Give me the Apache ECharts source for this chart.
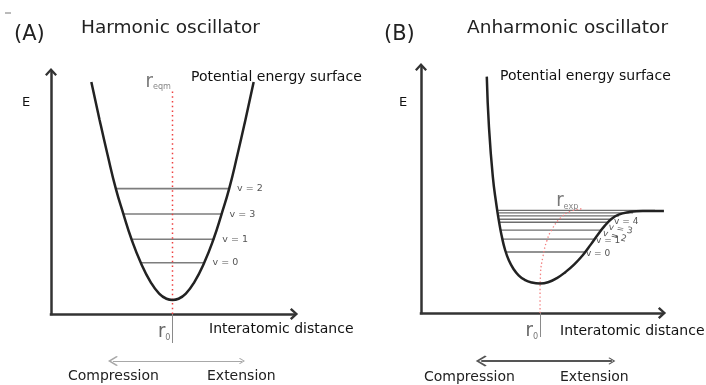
<!DOCTYPE html>
<html>
<head>
<meta charset="utf-8">
<script src="https://cdn.jsdelivr.net/npm/echarts@6/dist/echarts.min.js"></script>
<style>
  html, body { margin: 0; padding: 0; background: #fff; }
  #chart { width: 706px; height: 385px; }
</style>
</head>
<body>
<div id="chart"></div>
<script>
// ---- Panel A: harmonic oscillator (r and E in arbitrary units, 0..10) ----
const harmonicR = [1.66, 2.00, 2.33, 2.67, 2.98, 3.31, 3.70, 4.10, 4.45, 4.75, 5.00, 5.25, 5.55, 5.90, 6.30, 6.69, 7.02, 7.33, 7.67, 8.00, 8.34];
const harmonicE = [9.59, 8.02, 6.57, 5.17, 4.13, 3.10, 2.11, 1.32, 0.84, 0.63, 0.58, 0.63, 0.84, 1.32, 2.11, 3.10, 4.13, 5.17, 6.57, 8.02, 9.59];
const harmonicLevelNames = ['v = 2', 'v = 3', 'v = 1', 'v = 0'];
const harmonicLevelE = [5.18, 4.13, 3.09, 2.12];
const harmonicLevelFrom = [2.67, 2.98, 3.35, 3.70];
const harmonicLevelTo = [7.33, 7.02, 6.72, 6.32];
const eqmR = [5.0, 5.0];
const eqmE = [0, 9.19];
const harmonicR0 = 5.0;
const harmonicSpan = [2.55, 7.86];

// ---- Panel B: anharmonic (Morse-like) oscillator ----
const morseR = [2.73, 2.82, 2.98, 3.13, 3.24, 3.34, 3.49, 3.65, 3.82, 4.05, 4.30, 4.60, 4.94, 5.27, 5.64, 6.00, 6.36, 6.72, 7.05, 7.35, 7.62, 7.90, 8.20, 8.60, 9.20, 10.08];
const morseE = [9.61, 7.57, 5.54, 4.39, 3.70, 3.17, 2.56, 2.13, 1.82, 1.53, 1.35, 1.24, 1.20, 1.25, 1.42, 1.67, 1.98, 2.36, 2.79, 3.20, 3.54, 3.82, 4.00, 4.10, 4.15, 4.15];
const morseLevelNames = ['v = 0', 'v = 1', 'v = 2', 'v = 3', 'v = 4', '', '', ''];
const morseLevelE = [2.48, 3.00, 3.37, 3.69, 3.81, 3.95, 4.07, 4.17];
const morseLevelFrom = [3.51, 3.36, 3.30, 3.28, 3.26, 3.24, 3.22, 3.20];
const morseLevelTo = [6.80, 7.22, 7.50, 7.78, 7.93, 8.22, 8.80, 9.71];
const expR = [4.94, 4.94, 4.96, 5.06, 5.22, 5.44, 5.79, 6.20, 6.73];
const expE = [0, 0.80, 1.61, 2.29, 2.93, 3.41, 3.86, 4.13, 4.24];
const morseR0 = 4.94;
const morseSpan = [2.50, 7.92];

// label placement tweaks for the crowded upper levels of panel B
const morseLabelOffset = [[0, 2], [0, 1], [1, 3], [0, 5], [1, 2], [0, 0], [0, 0], [0, 0]];
const morseLabelRotate = [0, 0, -15, -10, 0, 0, 0, 0];

const FONT = "'DejaVu Sans', Verdana, sans-serif";
const NARROW = "'Liberation Sans Narrow', 'DejaVu Sans Condensed', 'Liberation Sans', sans-serif";
const AXIS_ARROW = 'path://M6,0 L12,6.5 L10.3,8.2 L6,3.4 L1.7,8.2 L0,6.5 Z';
const THIN_ARROW = 'path://M6,0 L12,5 L11,6 L6,1.8 L1,6 L0,5 Z';

const pairs = (xs, ys) => xs.map((x, i) => [x, ys[i]]);

const subRich = (mainColor, subColor) => ({
  r: { fontFamily: NARROW, fontSize: 20, color: mainColor, lineHeight: 20 },
  s: { fontFamily: NARROW, fontSize: 9, color: subColor, lineHeight: 10, padding: [12, 0, 0, 0], verticalAlign: 'bottom' }
});

function mainAxes(gridIndex, r0, tickLen) {
  const line = { color: '#333', width: 2.5, cap: 'square' };
  return {
    x: {
      type: 'value', gridIndex, min: 0, max: 10,
      axisLine: { show: true, onZero: false, symbol: ['none', AXIS_ARROW], symbolSize: [12, 8.2], lineStyle: line },
      axisTick: { show: true, customValues: [r0], length: tickLen, inside: false, lineStyle: { color: '#8a8a8a', width: 1 } },
      axisLabel: {
        show: true, customValues: [r0], align: 'right', margin: 8, padding: [0, 2, 0, 0],
        formatter: () => '{r|r}{s|0}', rich: subRich('#666', '#777')
      },
      splitLine: { show: false }
    },
    y: {
      type: 'value', gridIndex, min: 0, max: 10,
      axisLine: { show: true, onZero: false, symbol: ['none', AXIS_ARROW], symbolSize: [12, 8.2], lineStyle: line },
      axisTick: { show: false }, axisLabel: { show: false }, splitLine: { show: false }
    }
  };
}

function hiddenAxes(gridIndex) {
  return {
    x: { type: 'value', gridIndex, min: 0, max: 10, show: false },
    y: { type: 'value', gridIndex, min: 0, max: 1, show: false }
  };
}

const aAx = mainAxes(0, harmonicR0, 29);
const bAx = mainAxes(1, morseR0, 24);
const aAn = hiddenAxes(2);
const bAn = hiddenAxes(3);

function levelSeries(axisIndex, names, es, from, to, style, offsets, rotates) {
  return es.map((e, i) => ({
    type: 'line', xAxisIndex: axisIndex, yAxisIndex: axisIndex, name: names[i],
    data: [[from[i], e], [to[i], e]],
    symbol: 'none', silent: true, z: 2,
    lineStyle: { color: style.color, width: style.width },
    endLabel: {
      show: names[i] !== '', formatter: names[i], distance: style.distance,
      color: style.labelColor, fontFamily: FONT, fontSize: style.fontSize,
      offset: offsets ? offsets[i] : [0, 0], rotate: rotates ? rotates[i] : 0
    }
  }));
}

function curveSeries(axisIndex, xs, ys) {
  return {
    type: 'line', xAxisIndex: axisIndex, yAxisIndex: axisIndex,
    data: pairs(xs, ys), smooth: 0.5,
    symbol: 'none', silent: true, clip: false, z: 5,
    lineStyle: { color: '#222', width: 2.5 }
  };
}

function spanSeries(axisIndex, span, color, width, size) {
  return {
    type: 'lines', coordinateSystem: 'cartesian2d', xAxisIndex: axisIndex, yAxisIndex: axisIndex,
    silent: true, symbol: [THIN_ARROW, THIN_ARROW], symbolSize: size,
    lineStyle: { color, width, opacity: 1 },
    data: [{ coords: [[span[0], 0.5], [span[1], 0.5]] }]
  };
}

const textStyle = (size, color) => ({ fontFamily: FONT, fontSize: size, fontWeight: 'normal', color });
const label = (text, left, top, size, color) => ({ text, left, top, padding: 0, textStyle: textStyle(size, color) });

const option = {
  animation: false,
  backgroundColor: '#fff',
  grid: [
    { left: 51, top: 72, width: 243, height: 242 },
    { left: 421, top: 67, width: 241, height: 246 },
    { left: 51, top: 350, width: 243, height: 22 },
    { left: 421, top: 350, width: 241, height: 22 }
  ],
  xAxis: [aAx.x, bAx.x, aAn.x, bAn.x],
  yAxis: [aAx.y, bAx.y, aAn.y, bAn.y],
  title: [
    label('(A)', 14, 24, 21, '#222'),
    label('Harmonic oscillator', 81, 19, 18.5, '#222'),
    label('(B)', 384, 24, 21, '#222'),
    label('Anharmonic oscillator', 467, 19, 18.5, '#222'),
    label('Potential energy surface', 191, 70, 14, '#111'),
    label('Potential energy surface', 500, 69, 14, '#111'),
    label('E', 22, 96, 13, '#111'),
    label('E', 399, 96, 13, '#111'),
    label('Interatomic distance', 209, 322, 14, '#111'),
    label('Interatomic distance', 560, 324, 14, '#111'),
    label('Compression', 68, 369, 14, '#222'),
    label('Extension', 207, 369, 14, '#222'),
    label('Compression', 424, 370, 14, '#222'),
    label('Extension', 560, 370, 14, '#222')
  ],
  graphic: [
    { type: 'line', shape: { x1: 5, y1: 13, x2: 11, y2: 13 }, style: { stroke: '#777', lineWidth: 1 } }
  ],
  series: [
    // panel A
    ...levelSeries(0, harmonicLevelNames, harmonicLevelE, harmonicLevelFrom, harmonicLevelTo,
      { color: '#7d7d7d', width: 1.6, distance: 8, labelColor: '#555', fontSize: 9.5 }),
    {
      type: 'line', xAxisIndex: 0, yAxisIndex: 0, data: pairs(eqmR, eqmE),
      symbol: 'none', silent: true, z: 3,
      lineStyle: { color: '#ee4040', width: 1.5, type: [1.5, 3.2] },
      endLabel: { show: true, distance: 0, offset: [-27, -10], formatter: '{r|r}{s|eqm}', rich: subRich('#777', '#888') }
    },
    curveSeries(0, harmonicR, harmonicE),
    spanSeries(2, harmonicSpan, '#a8a8a8', 1.2, [10, 6]),

    // panel B
    ...levelSeries(1, morseLevelNames, morseLevelE, morseLevelFrom, morseLevelTo,
      { color: '#6e6e6e', width: 1.3, distance: 1, labelColor: '#555', fontSize: 9 },
      morseLabelOffset, morseLabelRotate),
    {
      type: 'line', xAxisIndex: 1, yAxisIndex: 1, data: pairs(expR, expE),
      smooth: 0.5, symbol: 'none', silent: true, z: 3,
      lineStyle: { color: '#f28080', width: 1.3, type: [1.4, 2.4] },
      endLabel: { show: true, distance: 0, offset: [-27, -8], formatter: '{r|r}{s|exp}', rich: subRich('#777', '#888') }
    },
    curveSeries(1, morseR, morseE),
    spanSeries(3, morseSpan, '#555', 1.8, [11, 7])
  ]
};

const chart = echarts.init(document.getElementById('chart'));
chart.setOption(option);
</script>
</body>
</html>
